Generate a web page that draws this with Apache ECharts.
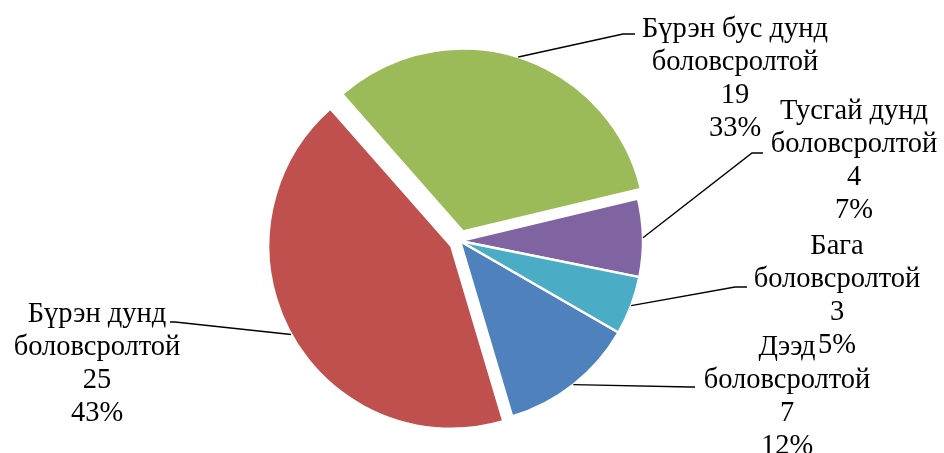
<!DOCTYPE html>
<html>
<head>
<meta charset="utf-8">
<script src="https://cdn.jsdelivr.net/npm/echarts@6/dist/echarts.min.js"></script>
<style>
html,body{margin:0;padding:0;background:#fff;}
#chart{width:944px;height:453px;}
</style>
</head>
<body>
<div id="chart"></div>
<script>
// боловсролын түвшин
var names = ['Дээд боловсролтой', 'Бүрэн дунд боловсролтой', 'Бүрэн бус дунд боловсролтой', 'Тусгай дунд боловсролтой', 'Бага боловсролтой'];
var values = [7, 25, 19, 4, 3];
var exploded = [false, true, true, false, false];

var colors = ['#4F81BD', '#C0504D', '#9BBB59', '#8064A2', '#4BACC6'];
// шошгын байрлал: [x, y, тохойн x, тохойн y, төгсгөлийн x]
var labelPos = [
	[787, 331, 690, 387, 695],
	[97, 298, 175, 322, 170],
	[735, 13, 623, 34, 635],
	[854, 95, 752, 153, 763],
	[837, 230, 735, 287, 747]
];

var CX = 460, CY = 241, R = 183, OFFSET = 10;

var chart = echarts.init(document.getElementById('chart'));

var pieData = [];
var labelData = [];
for (var i = 0; i < names.length; i++) {
	pieData.push({
		name: names[i],
		value: values[i],
		selected: exploded[i],
		itemStyle: {color: colors[i]}
	});
	labelData.push({name: names[i], value: values[i]});
}

var option = {
	backgroundColor: '#ffffff',
	animation: false,
	series: [
		{
			// зүсмэлүүд
			type: 'pie',
			center: [CX, CY],
			radius: R,
			startAngle: -30,
			clockwise: true,
			silent: true,
			selectedMode: 'multiple',
			selectedOffset: OFFSET,
			itemStyle: {borderColor: '#ffffff', borderWidth: 2.5},
			label: {show: false},
			labelLine: {show: false},
			data: pieData
		},
		{
			// шошгууд (ил харагдахгүй зүсмэлтэй)
			type: 'pie',
			center: [CX, CY],
			radius: R,
			startAngle: -30,
			clockwise: true,
			silent: true,
			z: 3,
			avoidLabelOverlap: false,
			percentPrecision: 0,
			itemStyle: {color: 'rgba(0,0,0,0)', borderWidth: 0},
			emphasis: {disabled: true},
			label: {
				show: true,
				position: 'outside',
				fontFamily: 'Liberation Serif',
				fontSize: 28.5,
				lineHeight: 33,
				color: '#000',
				align: 'center',
				formatter: function (p) {
					return p.name.replace(' боловсролтой', '\nболовсролтой') + '\n' + p.value + '\n' + p.percent + '%';
				}
			},
			labelLine: {show: true, lineStyle: {color: '#000', width: 1.4}},
			labelLayout: function (p) {
				var L = labelPos[p.dataIndex];
				var start = p.labelLinePoints ? p.labelLinePoints[0].slice() : [L[2], L[3]];
				if (exploded[p.dataIndex]) {
					var dx = start[0] - CX, dy = start[1] - CY;
					var d = Math.sqrt(dx * dx + dy * dy) || 1;
					start[0] += dx / d * OFFSET;
					start[1] += dy / d * OFFSET;
				}
				return {
					x: L[0],
					y: L[1],
					align: 'center',
					verticalAlign: 'top',
					labelLinePoints: [start, [L[2], L[3]], [L[4], L[3]]]
				};
			},
			data: labelData
		}
	]
};
chart.setOption(option);
</script>
</body>
</html>
